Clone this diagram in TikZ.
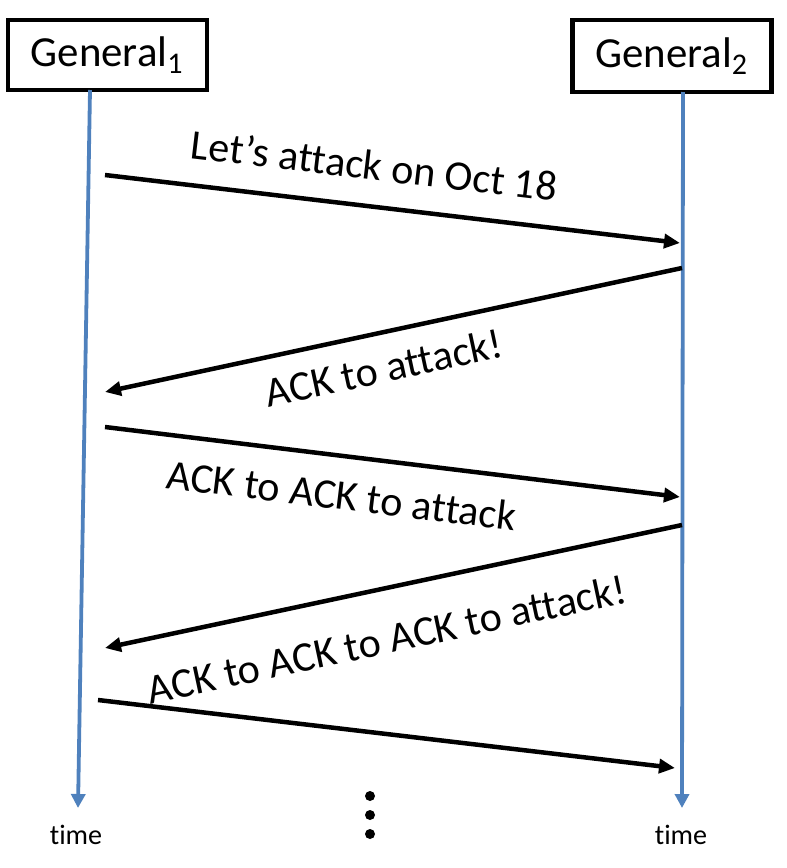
\documentclass[tikz,border=0pt]{standalone}
\usepackage{fontspec}
\setmainfont{Carlito}[Ligatures=CommonOff]
\usetikzlibrary{arrows.meta}
\definecolor{lineblue}{RGB}{79,129,189}

\begin{document}
\begin{tikzpicture}[x=0.1mm, y=-0.1mm,
  general/.style={draw, line width=0.45mm, minimum width=19.9mm, minimum height=7mm, inner sep=0pt, font=\fontsize{12.2}{14}\selectfont},
  timeline/.style={lineblue, line width=0.38mm, -{Triangle[length=1.4mm,width=1.4mm]}},
  msg/.style={line width=0.45mm, -{Triangle[length=1.6mm,width=1.4mm]}},
  msglabel/.style={sloped, inner sep=0pt, font=\fontsize{12}{14}\selectfont},
  timelabel/.style={font=\fontsize{8}{10}\selectfont}]
\useasboundingbox (0,0) rectangle (786,868);

\node [general] (g1) at (107.5,55) {General\textsubscript{1}};
\node [general, minimum height=7.2mm] (g2) at (672,56) {General\textsubscript{2}};

\coordinate (top1) at (90,90);
\coordinate (end1) at (78,808);
\coordinate (top2) at (683,92);
\coordinate (end2) at (682,808);

\draw [timeline] (top1) -- (end1);
\draw [timeline] (top2) -- (end2);

\node [timelabel] (time1) at (76,835) {time};
\node [timelabel] (time2) at (681,835) {time};

% messages
\coordinate (s1) at (105,175);
\coordinate (r1) at (680,243);
\coordinate (s2) at (682,268);
\coordinate (r2) at (105,392);
\coordinate (s3) at (105,427);
\coordinate (r3) at (680,497);
\coordinate (s4) at (682,525);
\coordinate (r4) at (105,648);
\coordinate (s5) at (98,700);
\coordinate (r5) at (675,768);

\draw [msg] (s1) -- node [msglabel, pos=0.46, above=2.4mm] {Let’s attack on Oct 18} (r1);
\draw [msg] (s2) -- node [msglabel, pos=0.53, below=1.8mm] {ACK to attack!} (r2);
\draw [msg] (s3) -- node [msglabel, pos=0.42, below=2.2mm] {ACK to ACK to attack} (r3);
\draw [msg] (s4) -- node [msglabel, pos=0.53, below=3.3mm] {ACK to ACK to ACK to attack!} (r4);
\draw [msg] (s5) -- (r5);

\fill (370,796) circle [radius=5];
\fill (370,815) circle [radius=5];
\fill (370,834) circle [radius=5];

\end{tikzpicture}
\end{document}
